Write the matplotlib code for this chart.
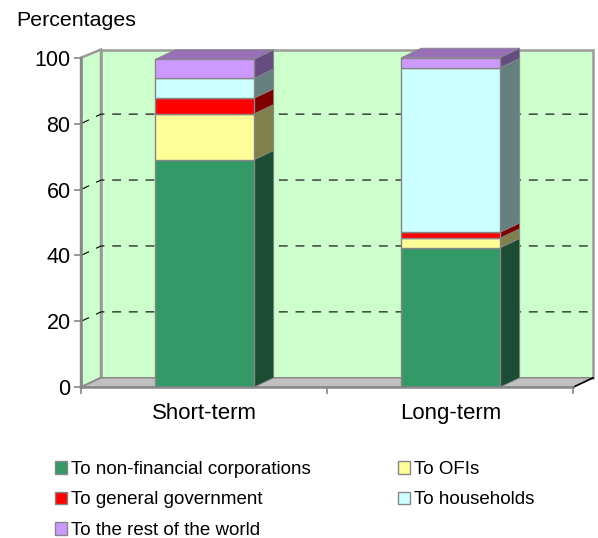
import matplotlib
matplotlib.use("Agg")
import matplotlib.pyplot as plt
from matplotlib.patches import Polygon, Patch

plt.rcParams['font.family'] = ['Liberation Sans', 'DejaVu Sans']

categories = ['Short-term', 'Long-term']
series_names = ['To non-financial corporations', 'To OFIs', 'To general government',
                'To households', 'To the rest of the world']
non_financial = [69.0, 42.3]
ofis = [13.9, 2.9]
general_gov = [4.8, 1.8]
households = [6.0, 49.9]
rest_of_world = [5.8, 3.1]
yticks = [0, 20, 40, 60, 80, 100]

front_colors = ['#339966', '#ffff99', '#ff0000', '#ccffff', '#cc99ff']
side_colors = ['#1a4d33', '#80804d', '#800000', '#668080', '#664d80']
top_color = '#9970b8'
edge = '#868686'

W, H = 598, 538
fig = plt.figure(figsize=(W / 100, H / 100), dpi=100)
ax = fig.add_axes([81 / W, 1 - 387.3 / H, 492 / W, 329.6 / H])
ax.set_xlim(0, 2)
ax.set_ylim(0, 100)
ax.patch.set_visible(False)

# depth of the fake 3d box, in data units
dx = 20 / 246
dy = 9.5 / 3.296
wall_top = 100 + dy - 0.4


def poly(pts, fc, ec=edge, lw=1.0, z=1):
    ax.add_patch(Polygon(pts, closed=True, fc=fc, ec=ec, lw=lw, zorder=z, clip_on=False))


# walls and floor
poly([(dx, dy), (2 + dx, dy), (2 + dx, wall_top), (dx, wall_top)], '#ccffcc', ec='#9a9a9a', lw=1.8)
poly([(0, 0), (dx, dy), (dx, wall_top), (0, 100)], '#ccffcc', ec='#9a9a9a', lw=1.8)
poly([(0, 0), (2, 0), (2 + dx, dy), (dx, dy)], '#c0c0c0', lw=1.0)
ax.plot([2, 2 + dx], [0, dy], color='black', lw=1.2, zorder=2, clip_on=False)

# gridlines on back wall and left wall
for t in yticks[1:-1]:
    ax.plot([0, dx, 2 + dx], [t, t + dy, t + dy], color='black', lw=0.8,
            dashes=(8, 7), zorder=2, clip_on=False)

# bars
positions = [0.502, 1.502]
bar_w = 0.40
stack = [non_financial, ofis, general_gov, households, rest_of_world]
bottoms = [0, 0]
for vals, name, fc, sc in zip(stack, series_names, front_colors, side_colors):
    ax.bar(positions, vals, bar_w, bottom=bottoms, color=fc, edgecolor=edge, linewidth=1.0, zorder=4)
    for p, v, b in zip(positions, vals, bottoms):
        r = p + bar_w / 2
        poly([(r, b), (r + dx, b + dy), (r + dx, b + v + dy), (r, b + v)], sc, lw=0.6, z=3)
    bottoms = [b + v for b, v in zip(bottoms, vals)]

for p, top in zip(positions, bottoms):
    l = p - bar_w / 2
    r = p + bar_w / 2
    poly([(l, top), (r, top), (r + dx, top + dy), (l + dx, top + dy)], top_color, lw=0.6, z=3)

# axes
for s in ['top', 'right']:
    ax.spines[s].set_visible(False)
for s in ['left', 'bottom']:
    ax.spines[s].set_color(edge)
    ax.spines[s].set_linewidth(1.8)
    ax.spines[s].set_zorder(5)
ax.set_yticks(yticks)
ax.set_xticks([0, 1, 2])
ax.set_xticklabels([])
ax.set_xticks(positions, labels=categories, minor=True)
ax.tick_params(axis='x', which='major', length=5, width=1.2, color=edge)
ax.tick_params(axis='x', which='minor', length=0, pad=11, labelsize=16)
ax.tick_params(axis='y', length=5, width=1.2, color=edge, pad=2.5, labelsize=15.5)

fig.text(16 / W, 1 - 20 / H, 'Percentages', fontsize=15.4, va='center', ha='left')

# legend is filled column by column, so reorder to match rows
order = [0, 2, 4, 1, 3]
handles = [Patch(fc=front_colors[i], ec=edge, lw=1.0) for i in order]
labels = [series_names[i] for i in order]
fig.legend(handles, labels, ncol=2, frameon=False, loc='upper left',
           bbox_to_anchor=(55 / W, 1 - 461 / H), borderpad=0, borderaxespad=0,
           fontsize=13.5, handlelength=0.65, handleheight=0.65, handletextpad=0.2,
           labelspacing=0.72, columnspacing=4.65)

fig.savefig('out.png', dpi=100)
